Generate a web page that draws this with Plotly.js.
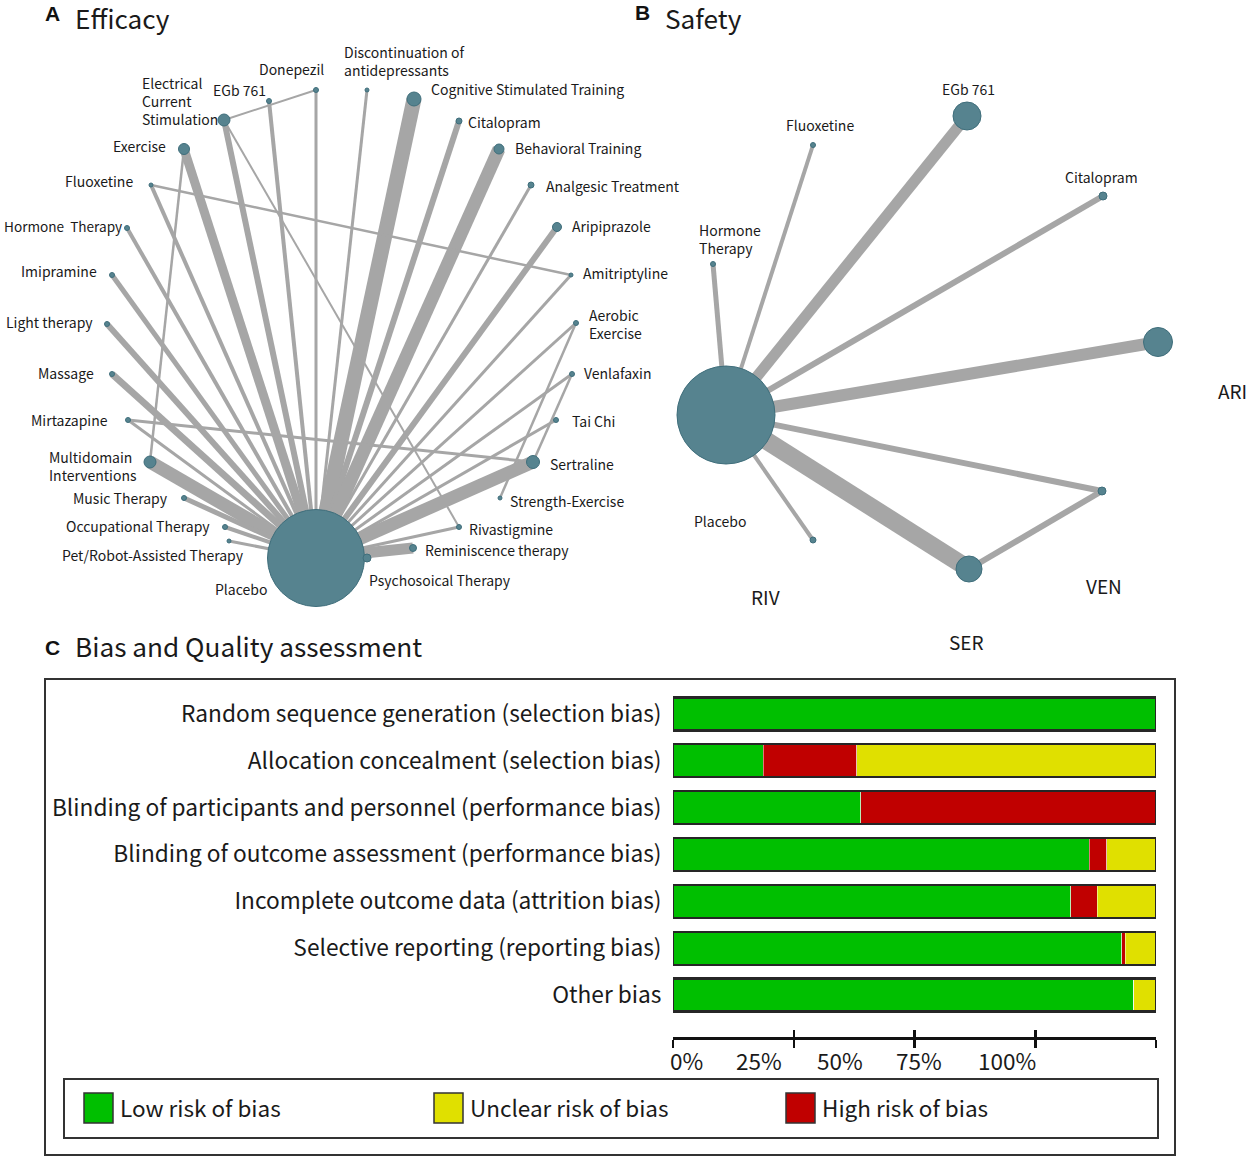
<!DOCTYPE html>
<html><head><meta charset="utf-8">
<script src="https://cdn.plot.ly/plotly-3.0.1.min.js"></script>
<style>html,body{margin:0;padding:0;background:#fff}</style>
</head><body><div id="chart" style="width:1247px;height:1156px"></div>
<script>
// ---------------- DATA ----------------
// Panel A (Efficacy) network nodes
const effNodes = ['Placebo','ECS','EGb761','Donepezil','Discontinuation','CST','Citalopram','Behavioral','Analgesic','Aripiprazole','Amitriptyline','Aerobic','Venlafaxin','TaiChi','Sertraline','Strength','Rivastigmine','Reminiscence','Psychosocial','PetRobot','Occupational','Music','Multidomain','Mirtazapine','Massage','Light','Imipramine','Hormone','Fluoxetine','Exercise'];
const effNodeX = [316,224,269,316,367,414,459,499,531,557,571,576,572,556,533,500,459,413,367,229,225,184,150,128,112,107,112,127,151,184];
const effNodeY = [558,120,101,90,90,99,121,149,185,227,275,323,374,420,462,498,527,548,558,541,527,498,462,420,374,324,275,228,185,149];
const effNodeSize = [97,12,5,5,4,14,6,10,6,9,4,5,5,5,13,4,5,7,8,4,5,5,12,5,5,5,5,5,4,11];
// Panel A edges
const effEdgeFrom = ['ECS','ECS','ECS','EGb761','Donepezil','Discontinuation','CST','Citalopram','Behavioral','Analgesic','Aripiprazole','Amitriptyline','Aerobic','Aerobic','Venlafaxin','Venlafaxin','TaiChi','Sertraline','Rivastigmine','Reminiscence','Psychosocial','Exercise','Exercise','Fluoxetine','Fluoxetine','Hormone','Imipramine','Light','Massage','Mirtazapine','Mirtazapine','Multidomain','Music','Occupational','PetRobot'];
const effEdgeTo   = ['Placebo','Donepezil','Rivastigmine','Placebo','Placebo','Placebo','Placebo','Placebo','Placebo','Placebo','Placebo','Placebo','Placebo','Strength','Placebo','Sertraline','Placebo','Placebo','Placebo','Placebo','Placebo','Placebo','Multidomain','Placebo','Amitriptyline','Placebo','Placebo','Placebo','Placebo','Placebo','Sertraline','Placebo','Placebo','Placebo','Placebo'];
const effEdgeWeight = [6,2,2,4,3,3,15,6,13,3,6,3,3,2.5,3,2.5,3,13,3,11,7,9,2.5,4,2.5,4,5,6,7,3,3,13,5,4,3];

// Panel B (Safety) network
const safNodes = ['Placebo','EGb761','Fluoxetine','Citalopram','Hormone','ARI','VEN','SER','RIV'];
const safNodeX = [726,967,813,1103,713,1158,1102,969,813];
const safNodeY = [415,116,145,196,264,342,491,569,540];
const safNodeSize = [98,28,5,8,5,29,8,26,6];
const safEdgeFrom = ['Placebo','Placebo','Placebo','Placebo','Placebo','Placebo','Placebo','Placebo','SER'];
const safEdgeTo   = ['Hormone','Fluoxetine','EGb761','Citalopram','ARI','VEN','SER','RIV','VEN'];
const safEdgeWeight = [5,4,11,6,12,6,18,4,6];

// Panel C (risk of bias, % of studies)
const biasDomains = ['Random sequence generation (selection bias)','Allocation concealment (selection bias)','Blinding of participants and personnel (performance bias)','Blinding of outcome assessment (performance bias)','Incomplete outcome data (attrition bias)','Selective reporting (reporting bias)','Other bias'];
const lowRisk     = [100, 18.7, 38.9, 86.2, 82.4, 92.9, 95.4];
const highRisk    = [0, 19.3, 61.1, 3.6, 5.4, 0.7, 0];
const unclearRisk = [0, 62.0, 0, 10.2, 12.2, 6.4, 4.6];
const riskNames = ['Low risk of bias','Unclear risk of bias','High risk of bias'];
const pctTickVals = [0,25,50,75,100];
const pctTickText = ['0%','25%','50%','75%','100%'];

// ---------------- STYLE / LAYOUT ----------------
const CJK = '"Noto Sans CJK SC", "Noto Sans", sans-serif';
const EDGE = '#a6a6a6', NODE = '#56838f', NODE_LINE = '#3f6e7b';
const GREEN = '#00bf00', YELLOW = '#e0e000', RED = '#c00000';
const riskColors = [GREEN, YELLOW, RED];
const W = 1247, H = 1156;

const traces = [];
function addNetwork(names, xs, ys, sizes, from, to, weights) {
  const idx = n => names.indexOf(n);
  from.forEach((f, i) => {
    const a = idx(f), b = idx(to[i]);
    traces.push({type:'scatter', mode:'lines', xaxis:'x', yaxis:'y', hoverinfo:'skip', showlegend:false,
      x:[xs[a], xs[b]], y:[ys[a], ys[b]], line:{color:EDGE, width:weights[i]}});
  });
  traces.push({type:'scatter', mode:'markers', xaxis:'x', yaxis:'y', showlegend:false, text:names, hoverinfo:'text',
    x:xs, y:ys, marker:{color:NODE, size:sizes, line:{color:NODE_LINE, width:1}, opacity:1}});
}
addNetwork(effNodes, effNodeX, effNodeY, effNodeSize, effEdgeFrom, effEdgeTo, effEdgeWeight);
addNetwork(safNodes, safNodeX, safNodeY, safNodeSize, safEdgeFrom, safEdgeTo, safEdgeWeight);

// stacked bars: low (green), high (red), unclear (yellow)
const segs = [[lowRisk, GREEN, riskNames[0]], [highRisk, RED, riskNames[2]], [unclearRisk, YELLOW, riskNames[1]]];
segs.forEach(([vals, col, nm]) => {
  traces.push({type:'bar', orientation:'h', xaxis:'x2', yaxis:'y2', name:nm, showlegend:false,
    x:vals, y:biasDomains, marker:{color:col, line:{color:'rgba(255,255,255,0.8)', width:0.6}}});
});
// outline frame around each bar (total of the three categories)
const totals = biasDomains.map((_, i) => lowRisk[i] + highRisk[i] + unclearRisk[i]);
traces.push({type:'bar', orientation:'h', xaxis:'x3', yaxis:'y2', showlegend:false, hoverinfo:'skip',
  x:totals, y:biasDomains, marker:{color:'rgba(0,0,0,0)', line:{color:'#262626', width:2.2}}});

// pixel helpers
const py = p => 1 - p / H, px = p => p / W;

const annotations = [];
function lab(text, x, y, xanchor, size, extra) {
  annotations.push(Object.assign({text, x, y, xref:'x', yref:'y', xanchor, yanchor:'middle', showarrow:false,
    align: xanchor === 'right' ? 'right' : (xanchor === 'center' ? 'center' : 'left'),
    font:{family:CJK, size, color:'#1a1a1a'}}, extra || {}));
}
// Panel A labels
[
 ['Electrical<br>Current<br>Stimulation',140,101,'left'],['EGb 761',211,90,'left'],['Donepezil',257,69,'left'],
 ['Discontinuation of<br>antidepressants',342,61,'left'],['Cognitive Stimulated Training',429,89,'left'],
 ['Citalopram',466,122,'left'],['Behavioral Training',513,148,'left'],['Analgesic Treatment',544,186,'left'],
 ['Aripiprazole',570,226,'left'],['Amitriptyline',581,273,'left'],['Aerobic<br>Exercise',587,324,'left'],
 ['Venlafaxin',582,373,'left'],['Tai Chi',570,421,'left'],['Sertraline',548,464,'left'],
 ['Strength-Exercise',508,501,'left'],['Rivastigmine',467,529,'left'],['Reminiscence therapy',423,550,'left'],
 ['Psychosoical Therapy',367,580,'left'],['Placebo',241,589,'center'],['Pet/Robot-Assisted Therapy',246,555,'right'],
 ['Occupational Therapy',212,526,'right'],['Music Therapy',170,498,'right'],['Multidomain<br>Interventions',47,466,'left'],
 ['Mirtazapine',110,420,'right'],['Massage',96,373,'right'],['Light therapy',95,322,'right'],['Imipramine',99,271,'right'],
 ['Fluoxetine',135,181,'right'],['Exercise',168,146,'right']
].forEach(a => lab(a[0], a[1], a[2], a[3], 14));
lab('Hormone\u00a0\u00a0Therapy', 2, 226, 'left', 13.6);
// Panel B labels
[['EGb 761',968,89,'center',14],['Fluoxetine',820,125,'center',14],['Citalopram',1101,177,'center',14],
 ['Hormone<br>Therapy',697,239,'left',14],['Placebo',720,521,'center',14],
 ['ARI',1216,390,'left',19],['VEN',1104,585,'center',19],['SER',966,641,'center',19],['RIV',765,596,'center',19]
].forEach(a => lab(a[0], a[1], a[2], a[3], a[4]));
// Panel titles
const boldF = {family:'"Liberation Sans", Arial, sans-serif', size:21, color:'#111', weight:700};
[['<b>A</b>',43,13],['<b>B</b>',633,12],['<b>C</b>',43,647]].forEach(t =>
  annotations.push({text:t[0], x:t[1], y:t[2], xref:'x', yref:'y', xanchor:'left', yanchor:'middle', showarrow:false, font:boldF}));
[['Efficacy',73,3],['Safety',663,3]].forEach(t =>
  lab(t[0], t[1], 0, 'left', 26.2, {yanchor:'top', yshift:t[2]}));
lab('Bias and Quality assessment', 73, 646, 'left', 26.2);

// shifted percentage labels (as in the original figure)
const pctLabelPos = [2.7, 17.8, 34.6, 50.9, 69.2];
pctTickText.forEach((t, i) => annotations.push({text:t, x:pctLabelPos[i], y:1060, xref:'x2', yref:'y', xanchor:'center', yanchor:'middle',
  showarrow:false, font:{family:CJK, size:22.5, color:'#1a1a1a'}}));

// custom legend
const legendBoxX = [84, 434, 786];
const shapes = [
  {type:'rect', xref:'x', yref:'y', x0:45, x1:1175, y0:679, y1:1155, line:{color:'#333', width:2}, fillcolor:'rgba(0,0,0,0)'},
  {type:'rect', xref:'x', yref:'y', x0:64, x1:1158, y0:1079, y1:1138, line:{color:'#333', width:2}, fillcolor:'rgba(0,0,0,0)'}
];
riskNames.forEach((nm, i) => {
  shapes.push({type:'rect', xref:'x', yref:'y', x0:legendBoxX[i], x1:legendBoxX[i]+29, y0:1093, y1:1123,
    fillcolor:riskColors[i], line:{color:'#333', width:1.5}});
  annotations.push({text:nm, x:legendBoxX[i]+34, y:1107, xref:'x', yref:'y', xanchor:'left', yanchor:'middle', showarrow:false,
    font:{family:CJK, size:22.5, color:'#1a1a1a'}});
});

const axisPos = py(1038);
const layout = {
  width:W, height:H, margin:{l:0,r:0,t:0,b:0}, paper_bgcolor:'#fff', plot_bgcolor:'rgba(0,0,0,0)',
  showlegend:false, barmode:'stack', bargap:0.295,
  xaxis:{domain:[0,1], range:[0,W], visible:false, fixedrange:true},
  yaxis:{domain:[0,1], range:[H,0], visible:false, fixedrange:true},
  xaxis2:{domain:[px(673), px(1156)], range:[0,100], anchor:'free', position:axisPos, showgrid:false, zeroline:false,
    showline:true, linecolor:'#111', linewidth:2.5, ticks:'outside', ticklen:8, tickwidth:2.5, tickcolor:'#111',
    tickvals:pctTickVals, showticklabels:false},
  xaxis3:{overlaying:'x2', range:[0,100], anchor:'free', position:axisPos, showgrid:false, zeroline:false, showline:false,
    ticks:'inside', ticklen:8, tickwidth:2.5, tickcolor:'#111', tickvals:pctTickVals, showticklabels:false},
  yaxis2:{domain:[py(1018.4), py(690.6)], anchor:'x2', type:'category', categoryarray:biasDomains, categoryorder:'array',
    autorange:'reversed', showgrid:false, zeroline:false, showline:false, ticks:'outside', ticklen:6, tickcolor:'rgba(0,0,0,0)',
    tickfont:{family:CJK, size:22.7, color:'#1a1a1a'}},
  annotations, shapes
};
Plotly.newPlot('chart', traces, layout, {displayModeBar:false, staticPlot:true});
</script></body></html>
